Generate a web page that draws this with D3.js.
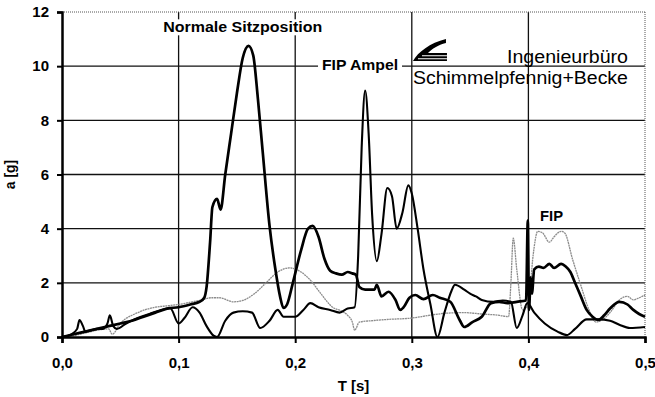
<!DOCTYPE html>
<html>
<head>
<meta charset="utf-8">
<script src="https://cdn.jsdelivr.net/npm/d3@7"></script>
<style>
  body { margin: 0; background: #fff; }
  text { font-family: "Liberation Sans", Arial, sans-serif; fill: #000; }
</style>
</head>
<body>
<svg id="chart" width="655" height="397"></svg>
<script>
// axis values
const yTicks = [0, 2, 4, 6, 8, 10, 12];
const xTicks = [0, 0.1, 0.2, 0.3, 0.4, 0.5];
const xTickLabels = ['0,0', '0,1', '0,2', '0,3', '0,4', '0,5'];

// [T in s, a in g]
const sitzposition = [
  [0, 0], [0.01, 0.1], [0.02, 0.2], [0.03, 0.3], [0.04, 0.4], [0.05, 0.5], [0.06, 0.6],
  [0.07, 0.75], [0.08, 0.9], [0.09, 1.05], [0.1, 1.1], [0.11, 1.2], [0.118, 1.3],
  [0.122, 1.45], [0.124, 1.85], [0.127, 3.5], [0.129, 4.8], [0.133, 5.1], [0.136, 4.7],
  [0.14, 6.0], [0.145, 7.5], [0.15, 9.0], [0.155, 10.3], [0.16, 10.75], [0.164, 10.4],
  [0.168, 8.8], [0.172, 6.9], [0.178, 4.1], [0.183, 2.5], [0.187, 1.5], [0.19, 1.07],
  [0.193, 1.2], [0.198, 2.0], [0.205, 3.2], [0.211, 4.0], [0.215, 4.1], [0.22, 3.7],
  [0.225, 2.9], [0.23, 2.45], [0.235, 2.35], [0.24, 2.3], [0.245, 2.4], [0.249, 2.35],
  [0.252, 2.3], [0.255, 1.85], [0.26, 1.75], [0.268, 1.75], [0.27, 1.93], [0.274, 1.5],
  [0.28, 1.67], [0.286, 1.37], [0.29, 1.0], [0.293, 1.1], [0.298, 1.45], [0.303, 1.55],
  [0.31, 1.4], [0.318, 1.55], [0.324, 1.45], [0.333, 1.3], [0.341, 0.63], [0.345, 0.37],
  [0.352, 0.55], [0.36, 0.75], [0.368, 1.25], [0.375, 1.3], [0.382, 1.25], [0.39, 1.3],
  [0.398, 1.35], [0.3995, 4.3], [0.4005, 1.0], [0.402, 2.2], [0.403, 1.6], [0.405, 2.5],
  [0.409, 2.6], [0.413, 2.55], [0.418, 2.7], [0.422, 2.55], [0.428, 2.7], [0.432, 2.6],
  [0.436, 2.4], [0.44, 2.0], [0.445, 1.5], [0.45, 1.0], [0.455, 0.75], [0.46, 0.63],
  [0.465, 0.8], [0.47, 1.05], [0.478, 1.3], [0.485, 1.2], [0.49, 1.0], [0.495, 0.85],
  [0.5, 0.75]
];

const fipAmpel = [
  [0, 0], [0.008, 0.1], [0.013, 0.3], [0.015, 0.63], [0.018, 0.4], [0.02, 0.2],
  [0.025, 0.25], [0.03, 0.3], [0.035, 0.3], [0.039, 0.5], [0.041, 0.8], [0.044, 0.4],
  [0.047, 0.3], [0.055, 0.5], [0.065, 0.7], [0.075, 0.85], [0.085, 1.0], [0.093, 1.05],
  [0.1, 0.5], [0.105, 0.7], [0.112, 1.1], [0.118, 0.9], [0.124, 0.4], [0.13, 0.05],
  [0.133, 0.0], [0.14, 0.6], [0.147, 0.9], [0.155, 0.95], [0.163, 0.9], [0.17, 0.33],
  [0.178, 0.6], [0.185, 1.0], [0.19, 0.75], [0.2, 0.75], [0.207, 1.0], [0.213, 1.25],
  [0.22, 1.1], [0.23, 1.0], [0.238, 0.9], [0.245, 1.05], [0.251, 1.1], [0.254, 3.0],
  [0.257, 7.0], [0.26, 9.1], [0.263, 7.5], [0.266, 4.5], [0.27, 2.8], [0.274, 3.8],
  [0.279, 5.5], [0.283, 5.2], [0.287, 4.0], [0.292, 4.6], [0.297, 5.6], [0.3, 5.3],
  [0.305, 4.0], [0.31, 2.5], [0.316, 1.2], [0.322, 0.0], [0.328, 0.9], [0.334, 1.7],
  [0.337, 1.93], [0.345, 1.75], [0.35, 1.6], [0.355, 1.5], [0.36, 1.37], [0.37, 1.3],
  [0.378, 1.35], [0.385, 1.3], [0.39, 0.33], [0.395, 0.8], [0.399, 1.25], [0.405, 0.9],
  [0.414, 0.5], [0.425, 0.2], [0.433, 0.07], [0.44, 0.3], [0.45, 0.65], [0.46, 0.65],
  [0.47, 0.6], [0.478, 0.45], [0.487, 0.33], [0.5, 0.37]
];

const fip = [
  [0, 0], [0.01, 0.05], [0.02, 0.15], [0.03, 0.25], [0.04, 0.3], [0.043, 0.1],
  [0.05, 0.5], [0.065, 0.9], [0.08, 1.1], [0.09, 1.15], [0.1, 1.2], [0.112, 1.3],
  [0.12, 1.37], [0.128, 1.45], [0.135, 1.45], [0.147, 1.3], [0.155, 1.35], [0.165, 1.6],
  [0.175, 2.0], [0.185, 2.4], [0.195, 2.55], [0.205, 2.4], [0.213, 2.1], [0.222, 1.6],
  [0.232, 1.1], [0.24, 0.95], [0.245, 0.8], [0.249, 0.55], [0.251, 0.25], [0.255, 0.55],
  [0.265, 0.6], [0.28, 0.65], [0.3, 0.7], [0.315, 0.8], [0.33, 0.88], [0.345, 0.9],
  [0.36, 0.85], [0.375, 0.8], [0.383, 0.75], [0.385, 2.0], [0.387, 3.65], [0.39, 2.5],
  [0.395, 1.0], [0.4, 1.2], [0.404, 3.0], [0.408, 3.9], [0.412, 3.85], [0.418, 3.5],
  [0.422, 3.7], [0.428, 3.9], [0.431, 3.85], [0.438, 2.85], [0.445, 1.9], [0.452, 1.0],
  [0.458, 0.55], [0.462, 0.6], [0.47, 0.9], [0.478, 1.37], [0.485, 1.5], [0.49, 1.37],
  [0.495, 1.45], [0.5, 1.55]
];

const margin = { top: 12, right: 10, bottom: 60, left: 62 };
const width = 655 - margin.left - margin.right;
const height = 397 - margin.top - margin.bottom;

const x = d3.scaleLinear().domain([0, 0.5]).range([0, width]);
const y = d3.scaleLinear().domain([0, 12]).range([height, 0]);

const svg = d3.select('#chart')
  .append('g')
  .attr('transform', 'translate(' + margin.left + ',' + margin.top + ')');

// grid
svg.append('g')
  .selectAll('line')
  .data(yTicks.filter(d => d > 0 && d < 12))
  .join('line')
  .attr('x1', 0).attr('x2', width)
  .attr('y1', d => y(d)).attr('y2', d => y(d))
  .attr('stroke', '#111').attr('stroke-width', 1.3);

svg.append('g')
  .selectAll('line')
  .data(xTicks.filter(d => d > 0 && d < 0.5))
  .join('line')
  .attr('x1', d => x(d)).attr('x2', d => x(d))
  .attr('y1', 0).attr('y2', height)
  .attr('stroke', '#111').attr('stroke-width', 1.3);

// dotted frame top / right
svg.append('line')
  .attr('x1', 0).attr('x2', width).attr('y1', 0).attr('y2', 0)
  .attr('stroke', '#555').attr('stroke-width', 1).attr('stroke-dasharray', '1,1');
svg.append('line')
  .attr('x1', width).attr('x2', width).attr('y1', 0).attr('y2', height)
  .attr('stroke', '#555').attr('stroke-width', 1).attr('stroke-dasharray', '1,1');

// curves
const line = d3.line()
  .x(d => x(d[0]))
  .y(d => y(d[1]))
  .curve(d3.curveMonotoneX);

svg.append('path').datum(fip)
  .attr('fill', 'none').attr('stroke', '#8c8c8c').attr('stroke-width', 1.3)
  .attr('stroke-dasharray', '2,0.6')
  .attr('d', line);
svg.append('path').datum(fipAmpel)
  .attr('fill', 'none').attr('stroke', '#000').attr('stroke-width', 2.1)
  .attr('stroke-linejoin', 'round')
  .attr('d', line);
svg.append('path').datum(sitzposition)
  .attr('fill', 'none').attr('stroke', '#000').attr('stroke-width', 2.7)
  .attr('stroke-linejoin', 'round')
  .attr('d', line);

// axes
const yAxis = d3.axisLeft(y)
  .tickValues(yTicks)
  .tickSize(5)
  .tickPadding(8)
  .tickFormat(d3.format('d'));
const gy = svg.append('g').attr('class', 'y axis').call(yAxis);
gy.select('.domain').attr('stroke', '#000').attr('stroke-width', 2.5);
gy.selectAll('.tick line').attr('stroke-width', 2);
gy.selectAll('.tick text')
  .attr('font-size', 15).attr('font-weight', 'bold')
  .attr('font-family', '"Liberation Sans", Arial, sans-serif');

const xAxis = d3.axisBottom(x)
  .tickValues(xTicks)
  .tickSize(6)
  .tickPadding(14)
  .tickFormat((d, i) => xTickLabels[i]);
const gx = svg.append('g').attr('class', 'x axis')
  .attr('transform', 'translate(0,' + height + ')')
  .call(xAxis);
gx.select('.domain').attr('stroke', '#000').attr('stroke-width', 2.5);
gx.selectAll('.tick line').attr('stroke-width', 2);
gx.selectAll('.tick text')
  .attr('font-size', 15).attr('font-weight', 'bold')
  .attr('font-family', '"Liberation Sans", Arial, sans-serif');

// axis titles
svg.append('text')
  .attr('x', width / 2).attr('y', height + 54)
  .attr('text-anchor', 'middle')
  .attr('font-size', 15).attr('font-weight', 'bold')
  .text('T [s]');
svg.append('text')
  .attr('transform', 'translate(' + (-47) + ',' + height / 2 + ') rotate(-90)')
  .attr('text-anchor', 'middle')
  .attr('font-size', 14).attr('font-weight', 'bold')
  .text('a [g]');

// labels with white backing
function label(txt, tx, ty, len, size) {
  const g = svg.append('g');
  const rect = g.append('rect').attr('fill', '#fff');
  const t = g.append('text')
    .attr('x', tx).attr('y', ty)
    .attr('font-size', size).attr('font-weight', 'bold')
    .attr('textLength', len).attr('lengthAdjust', 'spacingAndGlyphs')
    .text(txt);
  const b = t.node().getBBox();
  rect.attr('x', b.x - 4).attr('y', b.y).attr('width', b.width + 8).attr('height', b.height);
}
label('Normale Sitzposition', x(0.0868), y(11.25), 159, 14);
label('FIP Ampel', x(0.2230), y(9.85), 76, 14);
label('FIP', x(0.4100), y(4.3), 23, 14);

// logo
const logo = svg.append('g').attr('transform', 'translate(' + x(0.301) + ',' + y(11.0) + ')');
logo.append('path')
  .attr('d', 'M0,22 C5,13 17,4 33,0 L33,4 C25,6 19,10 15,14 L34,14 L34,22 Z')
  .attr('fill', '#000');
logo.append('path')
  .attr('d', 'M9,16.6 L34,16.6 M5,19.6 L34,19.6')
  .attr('stroke', '#fff').attr('stroke-width', 1.1);

svg.append('text')
  .attr('x', x(0.5) - 17).attr('y', y(10.1))
  .attr('text-anchor', 'end')
  .attr('font-size', 18)
  .attr('textLength', 121).attr('lengthAdjust', 'spacingAndGlyphs')
  .text('Ingenieurbüro');
svg.append('text')
  .attr('x', x(0.301)).attr('y', y(9.35))
  .attr('font-size', 18)
  .attr('textLength', 215).attr('lengthAdjust', 'spacingAndGlyphs')
  .text('Schimmelpfennig+Becke');
</script>
</body>
</html>
